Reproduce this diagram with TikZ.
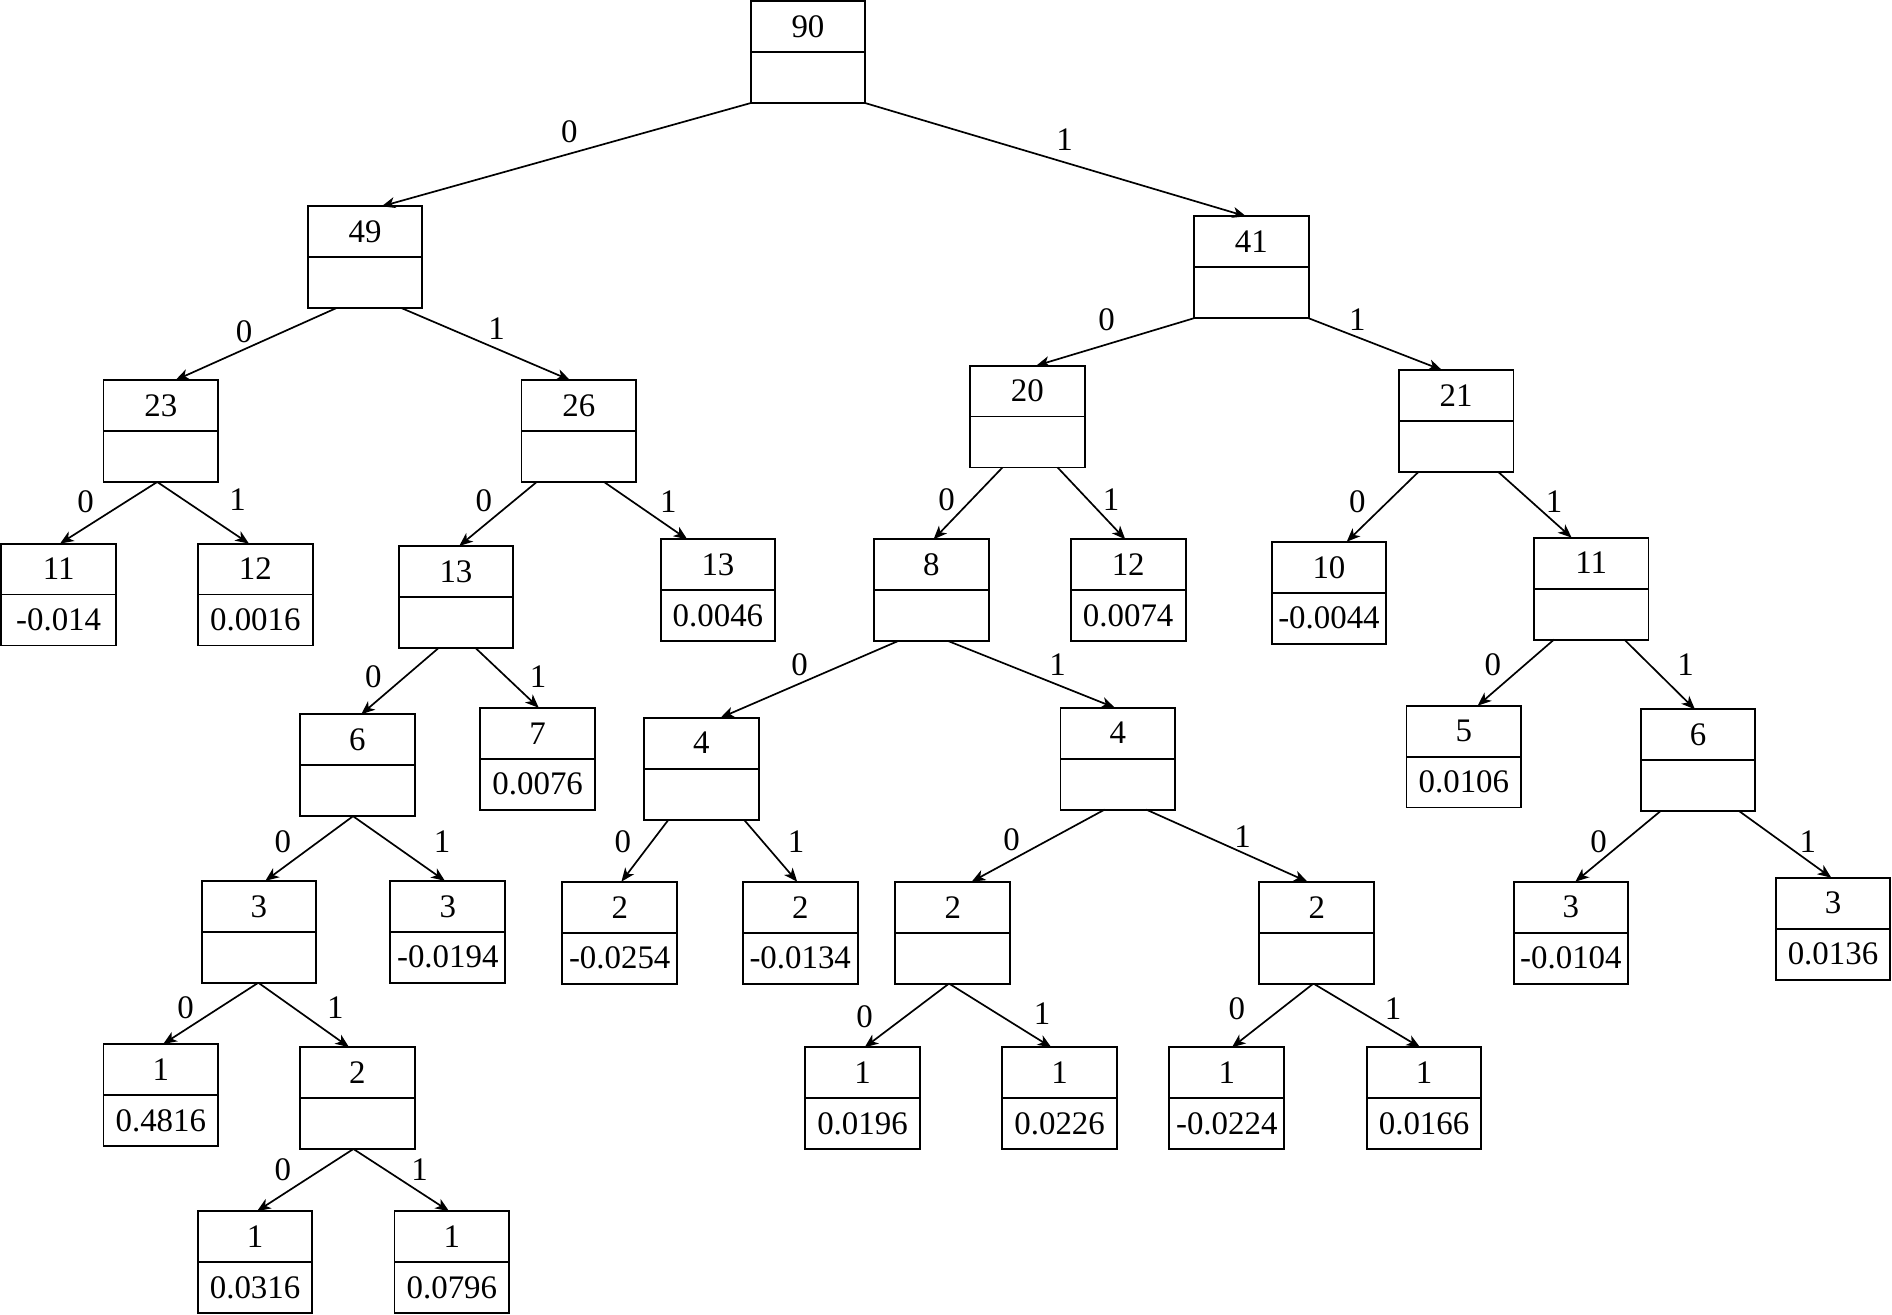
\documentclass[tikz,border=0pt]{standalone}
\usepackage{fontspec}
\setmainfont{Liberation Serif}
\usetikzlibrary{positioning,calc,arrows.meta}

\tikzset{
  cell/.style={draw, line width=0.45pt, minimum width=0.95cm, minimum height=0.422cm,
    inner sep=0pt, outer sep=0pt, font=\fontsize{7.75}{9}\selectfont},
  bit/.style={inner sep=0pt, font=\fontsize{7.75}{9}\selectfont},
  arr/.style={-{Stealth[length=3.2pt,width=2.6pt,inset=0.9pt]}, line width=0.4pt}
}

\begin{document}
\begin{tikzpicture}[x=0.01cm, y=-0.01cm]
\useasboundingbox (0,0) rectangle (1568,1089.8);

% Root and first level
\node[cell] (r) at (669.6,22.1) {90};
\node[cell, below=0pt of r] (rv) {};
\node[cell] (r0) at (302.5,192.1) {49};
\node[cell, below=0pt of r0] (r0v) {};
\node[cell] (r1) at (1037,200.4) {41};
\node[cell, below=0pt of r1] (r1v) {};

% Second level
\node[cell] (r00) at (133.3,336.1) {23};
\node[cell, below=0pt of r00] (r00v) {};
\node[cell] (r01) at (479.7,336.1) {26};
\node[cell, below=0pt of r01] (r01v) {};
\node[cell] (r10) at (851.4,324.1) {20};
\node[cell, below=0pt of r10] (r10v) {};
\node[cell] (r11) at (1206.8,327.7) {21};
\node[cell, below=0pt of r11] (r11v) {};

% Third level
\node[cell] (r000) at (48.6,471.6) {11};
\node[cell, below=0pt of r000] (r000v) {-0.014};
\node[cell] (r001) at (211.6,471.6) {12};
\node[cell, below=0pt of r001] (r001v) {0.0016};
\node[cell] (r010) at (377.9,473.6) {13};
\node[cell, below=0pt of r010] (r010v) {};
\node[cell] (r011) at (595,468.1) {13};
\node[cell, below=0pt of r011] (r011v) {0.0046};
\node[cell] (r100) at (771.8,468.1) {8};
\node[cell, below=0pt of r100] (r100v) {};
\node[cell] (r101) at (935,468.1) {12};
\node[cell, below=0pt of r101] (r101v) {0.0074};
\node[cell] (r110) at (1101.4,470.1) {10};
\node[cell, below=0pt of r110] (r110v) {-0.0044};
\node[cell] (r111) at (1318.7,466.7) {11};
\node[cell, below=0pt of r111] (r111v) {};

% Fourth level
\node[cell] (r0100) at (296.2,613.1) {6};
\node[cell, below=0pt of r0100] (r0100v) {};
\node[cell] (r0101) at (445.6,607.7) {7};
\node[cell, below=0pt of r0101] (r0101v) {0.0076};
\node[cell] (r1000) at (581.3,615.9) {4};
\node[cell, below=0pt of r1000] (r1000v) {};
\node[cell] (r1001) at (926.4,607.6) {4};
\node[cell, below=0pt of r1001] (r1001v) {};
\node[cell] (r1110) at (1213.2,605.9) {5};
\node[cell, below=0pt of r1110] (r1110v) {0.0106};
\node[cell] (r1111) at (1407.2,609) {6};
\node[cell, below=0pt of r1111] (r1111v) {};

% Fifth level
\node[cell] (r01000) at (214.6,751.1) {3};
\node[cell, below=0pt of r01000] (r01000v) {};
\node[cell] (r01001) at (371.1,751.1) {3};
\node[cell, below=0pt of r01001] (r01001v) {-0.0194};
\node[cell] (r10000) at (513.6,751.8) {2};
\node[cell, below=0pt of r10000] (r10000v) {-0.0254};
\node[cell] (r10001) at (663.2,751.8) {2};
\node[cell, below=0pt of r10001] (r10001v) {-0.0134};
\node[cell] (r10010) at (789.6,751.8) {2};
\node[cell, below=0pt of r10010] (r10010v) {};
\node[cell] (r10011) at (1091.3,751.8) {2};
\node[cell, below=0pt of r10011] (r10011v) {};
\node[cell] (r11110) at (1301.9,751.8) {3};
\node[cell, below=0pt of r11110] (r11110v) {-0.0104};
\node[cell] (r11111) at (1519.1,748.5) {3};
\node[cell, below=0pt of r11111] (r11111v) {0.0136};

% Sixth level
\node[cell] (r010000) at (133.3,886.3) {1};
\node[cell, below=0pt of r010000] (r010000v) {0.4816};
\node[cell] (r010001) at (296.2,888.9) {2};
\node[cell, below=0pt of r010001] (r010001v) {};
\node[cell] (r100100) at (714.8,889.1) {1};
\node[cell, below=0pt of r100100] (r100100v) {0.0196};
\node[cell] (r100101) at (878.2,889.1) {1};
\node[cell, below=0pt of r100101] (r100101v) {0.0226};
\node[cell] (r100110) at (1016.7,889.1) {1};
\node[cell, below=0pt of r100110] (r100110v) {-0.0224};
\node[cell] (r100111) at (1180.2,889.1) {1};
\node[cell, below=0pt of r100111] (r100111v) {0.0166};

% Seventh level
\node[cell] (r0100010) at (211.4,1024.8) {1};
\node[cell, below=0pt of r0100010] (r0100010v) {0.0316};
\node[cell] (r0100011) at (374.5,1024.8) {1};
\node[cell, below=0pt of r0100011] (r0100011v) {0.0796};

% Branches
\draw[arr] (rv.south west) -- ($(r0.north)+(13.8,0)$);
\draw[arr] (rv.south east) -- ($(r1.north)+(-4.3,0)$);
\draw[arr] ($(r0v.south)+(-24,0)$) -- ($(r00.north)+(12.2,0)$);
\draw[arr] ($(r0v.south)+(30.5,0)$) -- ($(r01.north)+(-7.3,0)$);
\draw[arr] (r1v.south west) -- ($(r10.north)+(7.5,0)$);
\draw[arr] (r1v.south east) -- ($(r11.north)+(-11.9,0)$);
\draw[arr] ($(r00v.south)+(-3,0)$) -- ($(r000.north)+(1.2,0)$);
\draw[arr] ($(r00v.south)+(-3,0)$) -- ($(r001.north)+(-5.3,0)$);
\draw[arr] ($(r01v.south)+(-34.9,0)$) -- ($(r010.north)+(2.7,0)$);
\draw[arr] ($(r01v.south)+(20.9,0)$) -- ($(r011.north)+(-25.4,0)$);
\draw[arr] ($(r10v.south)+(-20.6,0)$) -- ($(r100.north)+(1.9,0)$);
\draw[arr] ($(r10v.south)+(25.1,0)$) -- ($(r101.north)+(-2.4,0)$);
\draw[arr] ($(r11v.south)+(-31.2,0)$) -- ($(r110.north)+(14.7,0)$);
\draw[arr] ($(r11v.south)+(34.8,0)$) -- ($(r111.north)+(-16.2,0)$);
\draw[arr] ($(r010v.south)+(-14.3,0)$) -- ($(r0100.north)+(3.2,0)$);
\draw[arr] ($(r010v.south)+(16.1,0)$) -- ($(r0101.north)+(0.9,0)$);
\draw[arr] ($(r100v.south)+(-27.9,0)$) -- ($(r1000.north)+(15.9,0)$);
\draw[arr] ($(r100v.south)+(14.4,0)$) -- ($(r1001.north)+(-2.5,0)$);
\draw[arr] ($(r111v.south)+(-30.8,0)$) -- ($(r1110.north)+(11.5,0)$);
\draw[arr] ($(r111v.south)+(27.4,0)$) -- ($(r1111.north)+(-2.5,0)$);
\draw[arr] ($(r0100v.south)+(-3.6,0)$) -- ($(r01000.north)+(5.3,0)$);
\draw[arr] ($(r0100v.south)+(-3.6,0)$) -- ($(r01001.north)+(-2.4,0)$);
\draw[arr] ($(r1000v.south)+(-27.2,0)$) -- ($(r10000.north)+(1.4,0)$);
\draw[arr] ($(r1000v.south)+(35.2,0)$) -- ($(r10001.north)+(-2.5,0)$);
\draw[arr] ($(r1001v.south)+(-10.9,0)$) -- ($(r10010.north)+(15.7,0)$);
\draw[arr] ($(r1001v.south)+(23.5,0)$) -- ($(r10011.north)+(-7.8,0)$);
\draw[arr] ($(r1111v.south)+(-31.2,0)$) -- ($(r11110.north)+(3.7,0)$);
\draw[arr] ($(r1111v.south)+(34.3,0)$) -- ($(r11111.north)+(-1.4,0)$);
\draw[arr] ($(r01000v.south)+(-0.5,0)$) -- ($(r010000.north)+(2,0)$);
\draw[arr] ($(r01000v.south)+(-0.5,0)$) -- ($(r010001.north)+(-7,0)$);
\draw[arr] ($(r10010v.south)+(-3.1,0)$) -- ($(r100100.north)+(1.8,0)$);
\draw[arr] ($(r10010v.south)+(-3.1,0)$) -- ($(r100101.north)+(-6.9,0)$);
\draw[arr] ($(r10011v.south)+(-2.8,0)$) -- ($(r100110.north)+(4.3,0)$);
\draw[arr] ($(r10011v.south)+(-2.8,0)$) -- ($(r100111.north)+(-3.3,0)$);
\draw[arr] ($(r010001v.south)+(-3.3,0)$) -- ($(r0100010.north)+(1.7,0)$);
\draw[arr] ($(r010001v.south)+(-3.3,0)$) -- ($(r0100011.north)+(-2.4,0)$);

% Branch labels
\node[bit] (br0) at (471.9,109.1) {0};
\node[bit] (br1) at (882.2,116) {1};
\node[bit] (br00) at (202.3,274.9) {0};
\node[bit] (br01) at (411.6,272) {1};
\node[bit] (br10) at (917,265.2) {0};
\node[bit] (br11) at (1124.9,265.2) {1};
\node[bit] (br000) at (71,415.8) {0};
\node[bit] (br001) at (196.9,414.4) {1};
\node[bit] (br010) at (400.9,415.2) {0};
\node[bit] (br011) at (553.8,415.8) {1};
\node[bit] (br100) at (784.5,414.4) {0};
\node[bit] (br101) at (920.8,414.4) {1};
\node[bit] (br110) at (1124.9,415.8) {0};
\node[bit] (br111) at (1287.9,415.8) {1};
\node[bit] (br0100) at (309.5,560.8) {0};
\node[bit] (br0101) at (445.9,560.8) {1};
\node[bit] (br1000) at (662.7,551.1) {0};
\node[bit] (br1001) at (876.5,551.1) {1};
\node[bit] (br1110) at (1237.2,551.1) {0};
\node[bit] (br1111) at (1396.9,551.1) {1};
\node[bit] (br01000) at (234.4,697.2) {0};
\node[bit] (br01001) at (366.3,697.2) {1};
\node[bit] (br10000) at (516.1,697.5) {0};
\node[bit] (br10001) at (659.7,697.5) {1};
\node[bit] (br10010) at (838.3,695.6) {0};
\node[bit] (br10011) at (1029.7,693.4) {1};
\node[bit] (br11110) at (1324.9,697.6) {0};
\node[bit] (br11111) at (1498.2,697.6) {1};
\node[bit] (br010000) at (153.9,835.3) {0};
\node[bit] (br010001) at (278,835.3) {1};
\node[bit] (br100100) at (716.6,842.6) {0};
\node[bit] (br100101) at (863.7,839.8) {1};
\node[bit] (br100110) at (1025.1,835.7) {0};
\node[bit] (br100111) at (1154.5,835.7) {1};
\node[bit] (br0100010) at (234.4,969.5) {0};
\node[bit] (br0100011) at (347.7,969.5) {1};

\end{tikzpicture}
\end{document}
